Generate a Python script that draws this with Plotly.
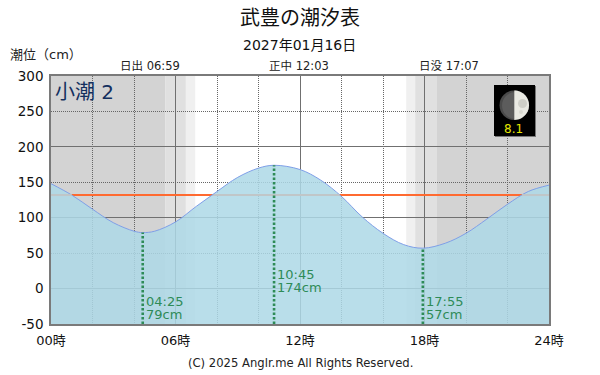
import math
import plotly.graph_objects as go

# ---------- data ----------
tide_hours = [0, 1, 2, 3, 4, 4.42, 5, 6, 7, 8, 9, 10, 10.75, 12, 13, 14, 15, 16, 17, 17.92, 19, 20, 21, 22, 23, 24]
tide_cm = [148, 132, 112, 93, 81, 79, 81, 94, 116, 137, 157, 170, 174, 168, 153, 130, 101, 78, 62, 57, 64, 78, 98, 119, 137, 146]
extreme_hours = [4.42, 10.75, 17.92]
extreme_cm = [79, 174, 57]
extreme_times = ["04:25", "10:45", "17:55"]
extreme_heights = ["79cm", "174cm", "57cm"]
label_time_cm = [-18, 20, -18]
label_height_cm = [-36, 2, -36]
band_start = [0, 5.5, 6.5, 17.12, 17.55, 18.6]
band_end = [5.5, 6.5, 6.95, 17.55, 18.6, 24]
band_color = ["#d3d3d3", "#e0e0e0", "#f0f0f0", "#f0f0f0", "#e0e0e0", "#d3d3d3"]
reference_cm = 132
reference_under_hours = [-0.1, 1.0, None, 7.85, 13.9, None, 22.7, 24.1]
reference_under_cm = [132, 132, None, 132, 132, None, 132, 132]
x_ticks = [0, 6, 12, 18, 24]
x_labels = ["00時", "06時", "12時", "18時", "24時"]
y_ticks = [-50, 0, 50, 100, 150, 200, 250, 300]
y_labels = ["-50", "0", "50", "100", "150", "200", "250", "300"]
title = "武豊の潮汐表"
date = "2027年01月16日"
sun_labels = ["日出 06:59", "正中 12:03", "日没 17:07"]
tide_name = "小潮 2"
moon_age = "8.1"
y_title = "潮位（cm）"
credit = "(C) 2025 Anglr.me All Rights Reserved."

FONT = "DejaVu Sans, Noto Sans CJK JP, sans-serif"
L, R, T, B = 51, 549, 76, 324
px = lambda v: (v - L) / (R - L)
py = lambda v: (B - v) / (B - T)

fig = go.Figure()
fig.add_trace(go.Scatter(x=[0, 24], y=[-50, -50], mode="lines", line=dict(width=0),
                         hoverinfo="skip", showlegend=False))
fig.add_trace(go.Scatter(x=tide_hours, y=tide_cm, mode="lines", fill="tonexty",
                         fillcolor="rgba(173,216,230,0.85)",
                         line=dict(color="#7f9fe8", width=1, shape="spline", smoothing=1.0),
                         showlegend=False))
fig.add_trace(go.Scatter(x=reference_under_hours, y=reference_under_cm, mode="lines",
                         line=dict(color="#c0c6c8", width=2), cliponaxis=False,
                         connectgaps=False, showlegend=False, hoverinfo="skip"))
for h, c in zip(extreme_hours, extreme_cm):
    fig.add_trace(go.Scatter(x=[h, h], y=[-50, c], mode="lines",
                             line=dict(color="#2e8b57", width=2.6, dash="2.5px,2px"),
                             showlegend=False))
fig.add_trace(go.Scatter(x=[0], y=[0], yaxis="y2", mode="markers", marker=dict(opacity=0),
                         showlegend=False, hoverinfo="skip"))

shapes = [dict(type="rect", xref="x", yref="paper", x0=a, x1=b, y0=0, y1=1,
               fillcolor=c, line=dict(width=0), layer="below")
          for a, b, c in zip(band_start, band_end, band_color)]
shapes.append(dict(type="line", xref="x", yref="y", x0=0, x1=24,
                   y0=reference_cm, y1=reference_cm, layer="between",
                   line=dict(color="#ff6a30", width=2)))


def box(x0, y0, x1, y1, **kw):
    return dict(xref="paper", yref="paper", x0=px(x0), x1=px(x1), y0=py(y1), y1=py(y0), layer="above", **kw)


shapes += [
    box(495, 86, 536, 137, type="rect", fillcolor="#777777", line=dict(width=0)),
    box(494, 85, 535, 136, type="rect", fillcolor="#000000", line=dict(width=0)),
    box(499.5, 90.5, 529, 120, type="circle", fillcolor="#4a4a4a", line=dict(width=0)),
    box(502, 92, 529, 119, type="circle", fillcolor="#5c5c5c", line=dict(width=0)),
]
r = 14.7
pts = [(px(514.3 + r * math.cos(a * math.pi / 30)), py(105.2 + r * math.sin(a * math.pi / 30)))
       for a in range(-15, 16)]
path = "M " + " L ".join(f"{x:.5f},{y:.5f}" for x, y in pts) + " Z"
shapes.append(dict(type="path", xref="paper", yref="paper", path=path, fillcolor="#e9e9e2",
                   line=dict(width=0), layer="above"))
shapes.append(box(518, 99, 527, 108, type="circle", fillcolor="#cfcfc8", line=dict(width=0)))
shapes.append(box(519, 110, 523, 114, type="circle", fillcolor="#d8d8d0", line=dict(width=0)))


def note(text, x, y, size, color="#222222", xanchor="center"):
    return dict(text=text, x=px(x), y=py(y), xref="paper", yref="paper", showarrow=False,
                xanchor=xanchor, yanchor="middle", font=dict(size=size, color=color, family=FONT))


annotations = [
    note(title, 299.5, 18, 20, "#111111"),
    note(date, 299, 45, 14, "#111111"),
    note(sun_labels[0], 150, 65.5, 11.5),
    note(sun_labels[1], 299, 65.5, 11.5),
    note(sun_labels[2], 449, 65.5, 11.5),
    note(y_title, 8, 55, 13, xanchor="left"),
    note(tide_name, 53, 92, 20, "#14305f", xanchor="left"),
    note(moon_age, 513, 129, 12, "#e6e600"),
    note(credit, 300, 363, 11.6),
]
for h, tt, hh, yt, yh in zip(extreme_hours, extreme_times, extreme_heights, label_time_cm, label_height_cm):
    for text, yy in ((tt, yt), (hh, yh)):
        annotations.append(dict(text=text, x=h, y=yy, xref="x", yref="y", showarrow=False, xanchor="left",
                                xshift=1, yanchor="middle", font=dict(size=13, color="#2e8b57", family=FONT)))

AX = "#7a7a7a"
fig.update_layout(
    width=600, height=375, autosize=False,
    margin=dict(l=L, r=600 - R, t=T, b=375 - B, pad=0, autoexpand=False),
    paper_bgcolor="white", plot_bgcolor="white",
    font=dict(family=FONT, size=13, color="#111111"),
    showlegend=False, shapes=shapes, annotations=annotations,
    xaxis=dict(range=[0, 24], tickmode="array", tickvals=x_ticks, ticktext=x_labels,
               showline=True, mirror=True, linecolor=AX, linewidth=1.5, zeroline=False,
               showgrid=True, gridcolor="#707070", gridwidth=1,
               ticks="outside", ticklen=4, tickcolor="rgba(0,0,0,0)", tickfont=dict(size=13),
               minor=dict(dtick=2, tick0=0, showgrid=True, gridcolor="#666666", griddash="1px,1px", gridwidth=1, ticks="")),
    yaxis=dict(range=[-50, 300], tickmode="array", tickvals=y_ticks, ticktext=y_labels,
               showline=True, mirror=True, linecolor=AX, linewidth=1.5,
               zeroline=False, showgrid=True, gridcolor="#666666", griddash="1px,1px", gridwidth=1,
               ticks="outside", ticklen=3, tickcolor="rgba(0,0,0,0)", tickfont=dict(size=13.5)),
    yaxis2=dict(range=[-50, 300], dtick=100, tick0=0, overlaying="y", side="left", showticklabels=False,
                showgrid=True, gridcolor="#707070", gridwidth=1, zeroline=False, ticks="", showline=False),
)
fig.write_html("out.html", config={"displayModeBar": False}, post_script="document.body.style.margin='0';")
